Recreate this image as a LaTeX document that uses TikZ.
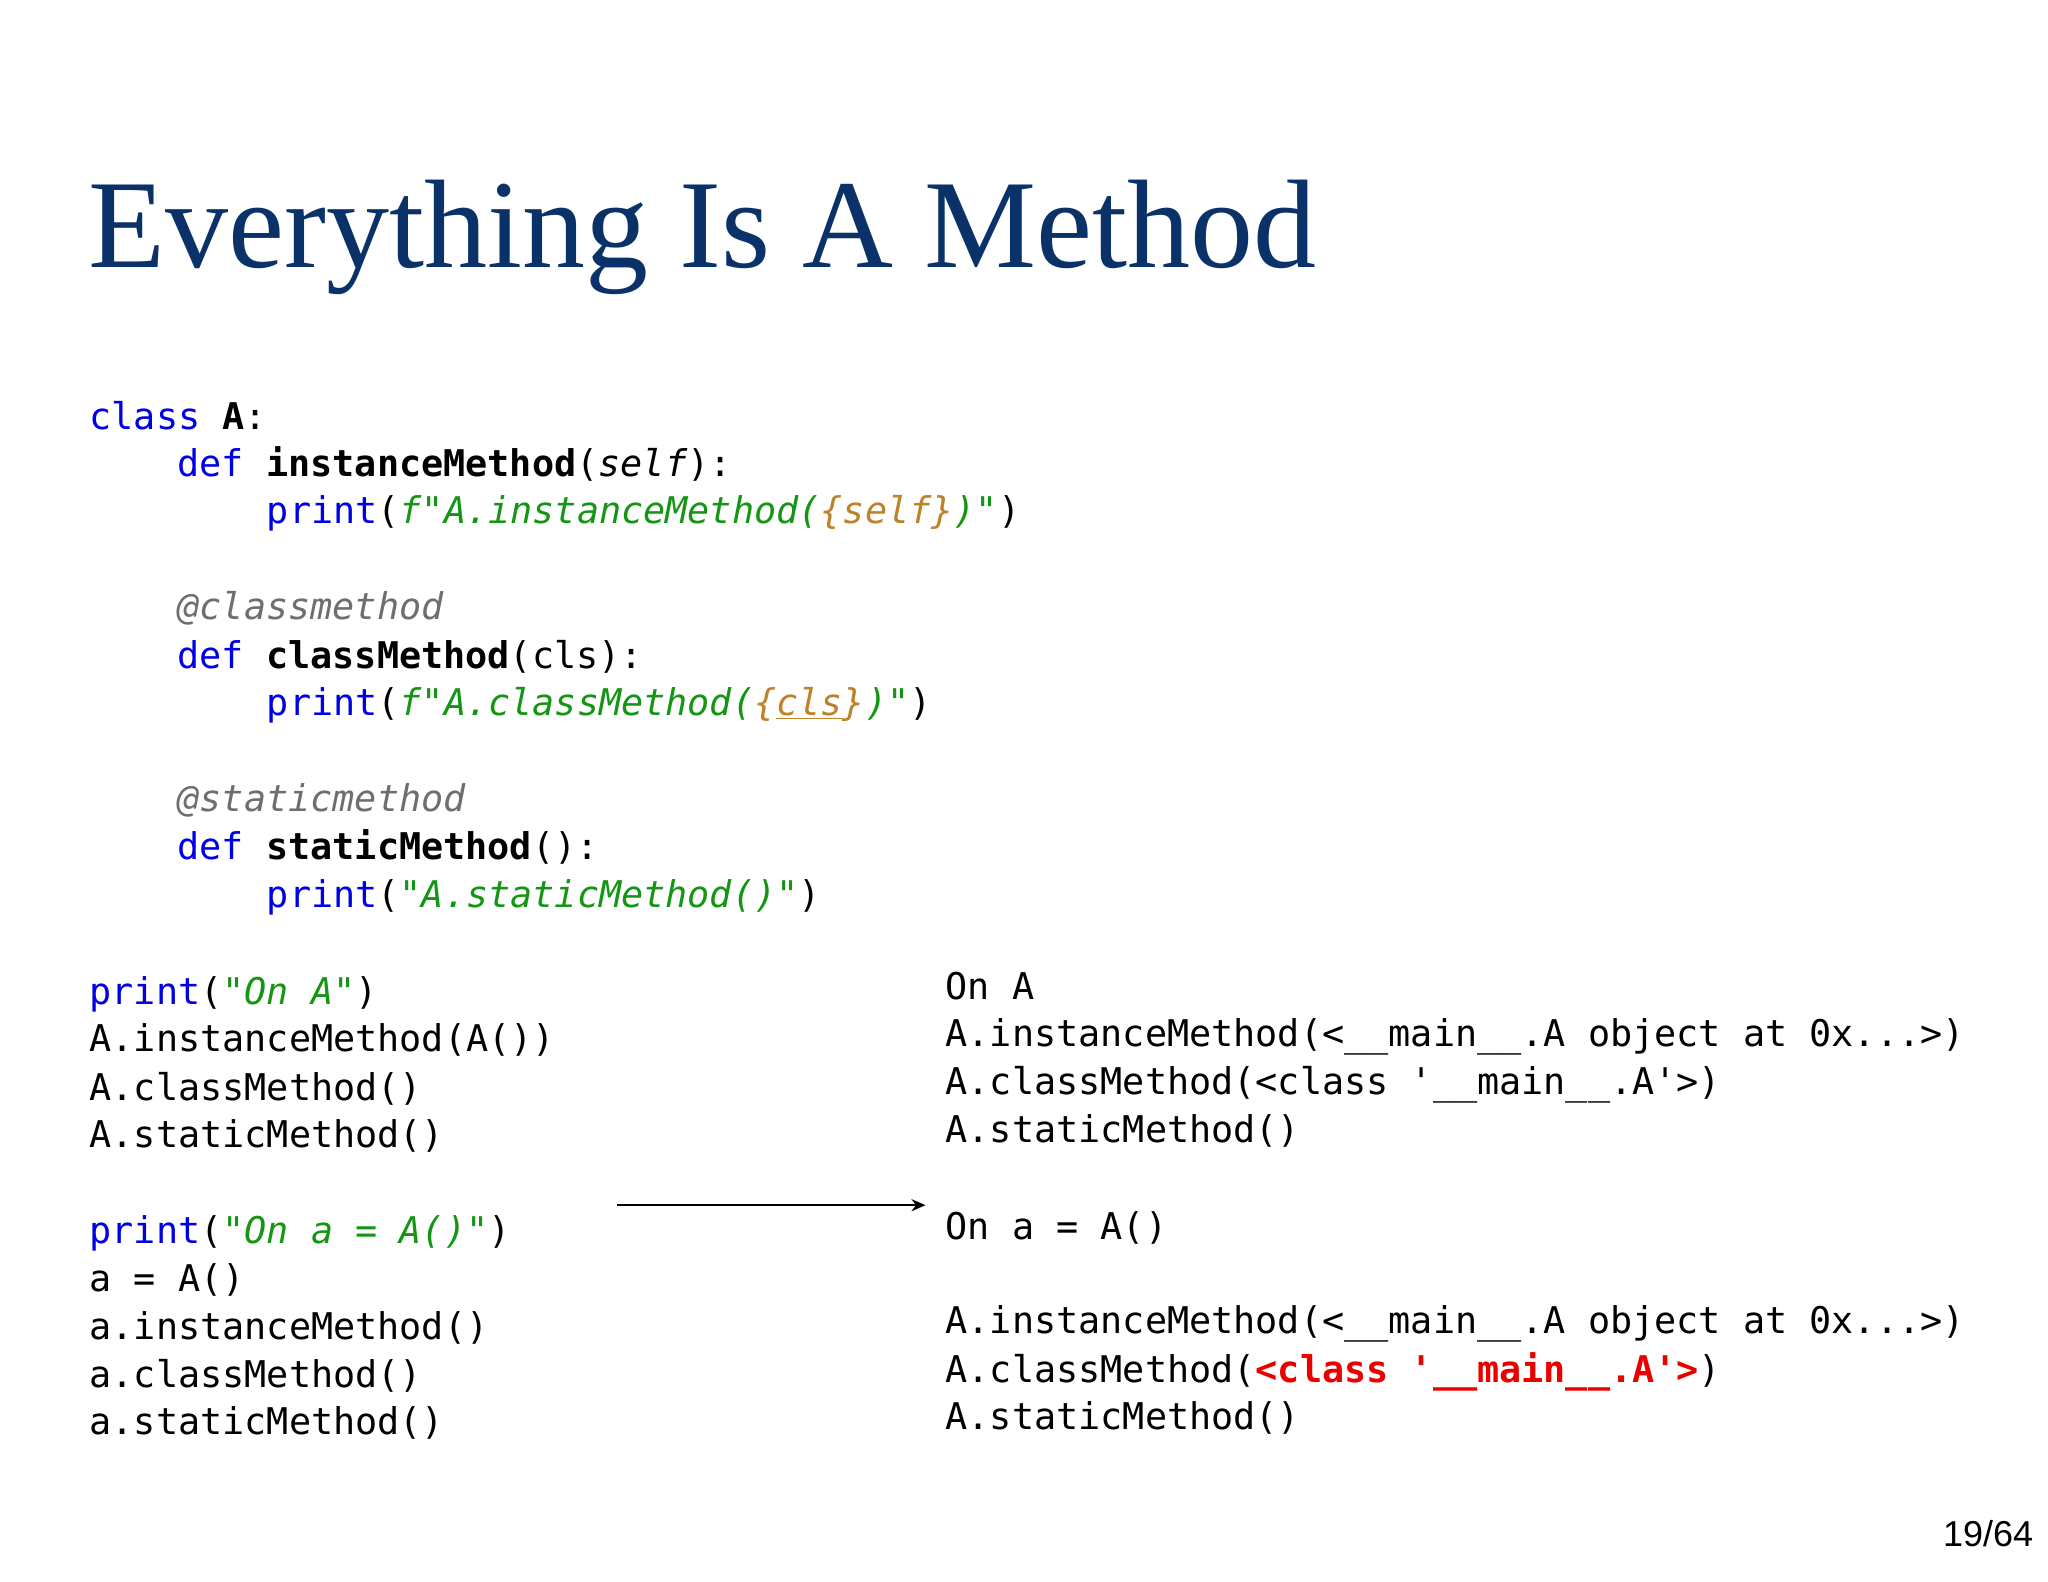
\documentclass[tikz,border=0pt]{standalone}
\usepackage{fontspec}
\usetikzlibrary{arrows.meta}
\setmainfont{Liberation Serif}
\newfontfamily\code{DejaVu Sans Mono}
\newfontfamily\pgsans{Liberation Sans}
\definecolor{kw}{RGB}{0,0,230}
\definecolor{str}{RGB}{20,150,20}
\definecolor{ipl}{RGB}{190,130,40}
\definecolor{dec}{RGB}{110,110,110}
\definecolor{ttl}{RGB}{10,50,105}
\definecolor{rd}{RGB}{235,0,0}
\newcommand\K[1]{\textcolor{kw}{#1}}
\newcommand\Sg[1]{\textcolor{str}{\itshape #1}}
\newcommand\Ip[1]{\textcolor{ipl}{\itshape #1}}
\begin{document}
\begin{tikzpicture}[x=0.6564pt,y=-0.6564pt,
  cl/.style={anchor=base west,inner sep=0pt,font=\code\fontsize{18.4pt}{20pt}\selectfont}]
\useasboundingbox (0,0) rectangle (1560,1205);
\node[anchor=base west,inner sep=0pt,text=ttl,font=\fontsize{63pt}{72pt}\selectfont] (title) at (67,204) {Everything Is A Method};
\node[cl] (l1) at (68,327) {\K{class} \textbf{A}:};
\node[cl] (l2) at (135,363) {\K{def} \textbf{instanceMethod}(\textit{self}):};
\node[cl] (l3) at (203,399) {\K{print}(\Sg{f"A.instanceMethod(}\Ip{\{self\}}\Sg{)"})};
\node[cl] (l4) at (135,472) {\textcolor{dec}{\itshape @classmethod}};
\node[cl] (l5) at (135,509) {\K{def} \textbf{classMethod}(cls):};
\node[cl] (l6) at (203,545) {\K{print}(\Sg{f"A.classMethod(}\Ip{\{\underline{cls}\}}\Sg{)"})};
\node[cl] (l7) at (135,618) {\textcolor{dec}{\itshape @staticmethod}};
\node[cl] (l8) at (135,655) {\K{def} \textbf{staticMethod}():};
\node[cl] (l9) at (203,691) {\K{print}(\Sg{"A.staticMethod()"})};
\node[cl] (m1) at (68,765) {\K{print}(\Sg{"On A"})};
\node[cl] (m2) at (68,801) {A.instanceMethod(A())};
\node[cl] (m3) at (68,838) {A.classMethod()};
\node[cl] (m4) at (68,874) {A.staticMethod()};
\node[cl] (n1) at (68,947) {\K{print}(\Sg{"On a = A()"})};
\node[cl] (n2) at (68,984) {a = A()};
\node[cl] (n3) at (68,1020) {a.instanceMethod()};
\node[cl] (n4) at (68,1057) {a.classMethod()};
\node[cl] (n5) at (68,1093) {a.staticMethod()};
\node[cl] (o1) at (720,761) {On A};
\node[cl] (o2) at (720,797) {A.instanceMethod(<\_\_main\_\_.A object at 0x...>)};
\node[cl] (o3) at (720,834) {A.classMethod(<class '\_\_main\_\_.A'>)};
\node[cl] (o4) at (720,870) {A.staticMethod()};
\node[cl] (p1) at (720,944) {On a = A()};
\node[cl] (p2) at (720,1016) {A.instanceMethod(<\_\_main\_\_.A object at 0x...>)};
\node[cl] (p3) at (720,1053) {A.classMethod(\textcolor{rd}{\bfseries <class '\_\_main\_\_.A'>})};
\node[cl] (p4) at (720,1089) {A.staticMethod()};
\coordinate (a0) at (470,918);
\coordinate (a1) at (705,918);
\draw[-{Stealth[length=7pt,width=6pt]},line width=1pt] (a0) -- (a1);
\node[anchor=base east,inner sep=0pt,font=\pgsans\fontsize{18pt}{20pt}\selectfont] (pg) at (1549,1178) {19/64};
\end{tikzpicture}
\end{document}
